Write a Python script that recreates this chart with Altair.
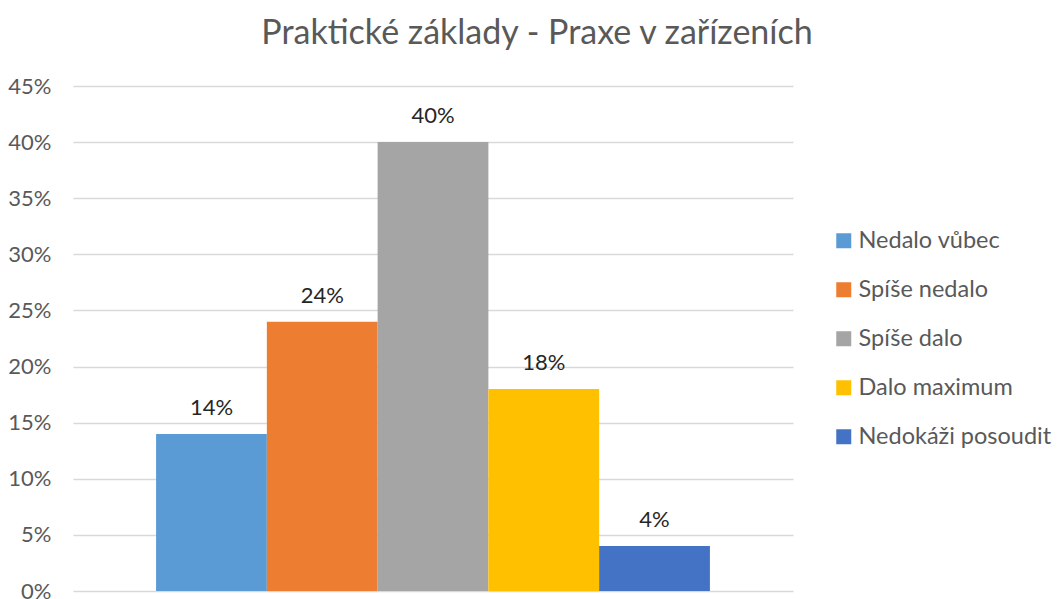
import altair as alt
import pandas as pd

categories = ["Nedalo vůbec", "Spíše nedalo", "Spíše dalo", "Dalo maximum", "Nedokáži posoudit"]
values = [0.14, 0.24, 0.40, 0.18, 0.04]
colors = ["#5B9BD5", "#ED7D31", "#A5A5A5", "#FFC000", "#4472C4"]
title_text = "Praktické základy - Praxe v zařízeních"

df = pd.DataFrame({"kategorie": categories, "hodnota": values})

FONT = "Lato"

x = alt.X("kategorie:N", sort=categories, axis=None,
          scale=alt.Scale(paddingInner=0, paddingOuter=0.75))
y = alt.Y("hodnota:Q",
          scale=alt.Scale(domain=[0, 0.45], nice=False),
          axis=alt.Axis(values=[0, 0.05, 0.10, 0.15, 0.20, 0.25, 0.30, 0.35, 0.40, 0.45],
                        format=".0%", title=None, ticks=False, domain=False,
                        labelFont=FONT, labelFontSize=22, labelColor="#595959",
                        labelPadding=22, gridColor="#D9D9D9", gridWidth=1.3))

bars = alt.Chart(df).mark_bar().encode(
    x=x, y=y,
    color=alt.Color("kategorie:N", sort=categories,
                    scale=alt.Scale(domain=categories, range=colors),
                    legend=alt.Legend(title=None, orient="none", legendX=759, legendY=143,
                                      labelFont=FONT, labelFontSize=23.5, labelColor="#595959",
                                      symbolType="square", symbolSize=225, symbolStrokeWidth=0,
                                      rowPadding=24, labelOffset=3, labelLimit=300)),
)

labels = alt.Chart(df).mark_text(baseline="bottom", dy=-14, font=FONT, fontSize=22,
                                 color="#262626").encode(
    x=alt.X("kategorie:N", sort=categories, axis=None,
            scale=alt.Scale(paddingInner=0, paddingOuter=0.75)),
    y=alt.Y("hodnota:Q"),
    text=alt.Text("hodnota:Q", format=".0%"),
)

chart = alt.layer(bars, labels).properties(
    width=720, height=505,
    title=alt.TitleParams(title_text, font=FONT, fontSize=34, fontWeight="normal",
                          color="#595959", anchor="middle", dx=104, offset=24),
    autosize=alt.AutoSizeParams(type="none"),
    padding={"left": 65, "top": 78, "right": 260, "bottom": 10},
).configure_view(stroke=None)

chart.save("out.html", embed_options={"renderer": "svg", "actions": False})
